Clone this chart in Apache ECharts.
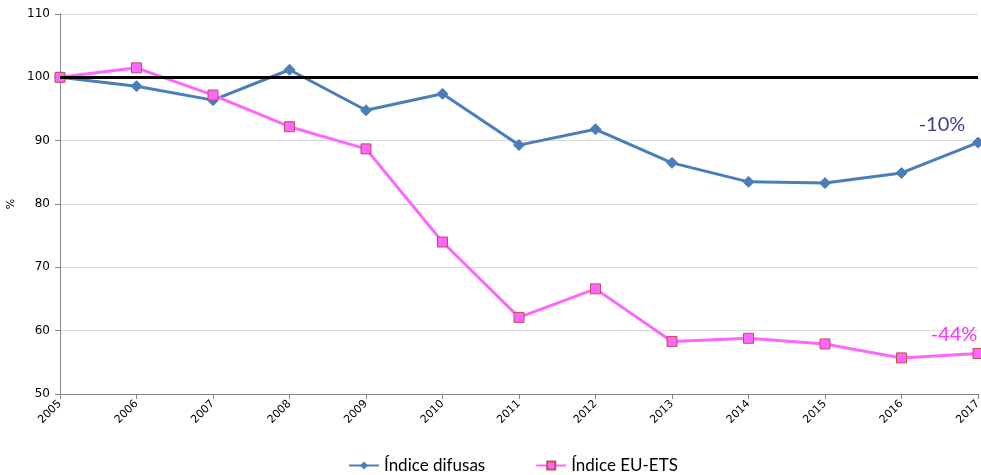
<!DOCTYPE html>
<html>
<head>
<meta charset="utf-8">
<script src="https://cdn.jsdelivr.net/npm/echarts@6/dist/echarts.min.js"></script>
<style>
  html, body { margin: 0; padding: 0; background: #fff; }
  #chart { width: 981px; height: 475px; }
</style>
</head>
<body>
<div id="chart"></div>
<script>
const years = ["2005", "2006", "2007", "2008", "2009", "2010", "2011", "2012", "2013", "2014", "2015", "2016", "2017"];
const difusas = [100, 98.6, 96.4, 101.2, 94.8, 97.4, 89.3, 91.8, 86.5, 83.5, 83.3, 84.9, 89.7];
const euEts = [100, 101.5, 97.2, 92.2, 88.7, 74.0, 62.1, 66.6, 58.3, 58.8, 57.9, 55.7, 56.4];
const endLabels = ["-10%", "-44%"];

const chart = echarts.init(document.getElementById("chart"));

function withEndLabel(values, text, color, offset) {
  return values.map((v, i) => {
    if (i !== values.length - 1) return v;
    return {
      value: v,
      label: {
        show: true,
        formatter: text,
        position: "top",
        offset: offset,
        color: color,
        fontSize: 20,
        fontFamily: "Lato",
      },
    };
  });
}

const option = {
  animation: false,
  grid: { left: 60, right: 3, top: 14, bottom: 81, outerBoundsMode: "none", containLabel: false },
  legend: {
    top: 452,
    left: 343,
    itemWidth: 30,
    itemHeight: 10,
    itemGap: 50,
    textStyle: { fontFamily: "Lato", fontSize: 17, color: "#000" },
    data: ["Índice difusas", "Índice EU-ETS"],
  },
  xAxis: {
    type: "category",
    data: years,
    boundaryGap: false,
    axisLine: { lineStyle: { color: "#868686" } },
    axisTick: { show: true, alignWithLabel: true, length: 5, lineStyle: { color: "#868686" } },
    axisLabel: { rotate: 45, color: "#000", fontSize: 11, fontFamily: "DejaVu Sans", margin: 8, interval: 0 },
  },
  yAxis: {
    type: "value",
    min: 50,
    max: 110,
    interval: 10,
    name: "%",
    nameLocation: "middle",
    nameGap: 40,
    nameTextStyle: { color: "#000", fontSize: 11, fontFamily: "DejaVu Sans" },
    axisLine: { show: true, lineStyle: { color: "#868686" } },
    axisTick: { show: true, length: 5, lineStyle: { color: "#868686" } },
    axisLabel: { color: "#000", fontSize: 12, fontFamily: "DejaVu Sans", margin: 10 },
    splitLine: { lineStyle: { color: "#d9d9d9" } },
  },
  series: [
    {
      name: "Índice difusas",
      type: "line",
      data: withEndLabel(difusas, endLabels[0], "#3c3f99", [-36, 3]),
      symbol: "diamond",
      symbolSize: 11,
      lineStyle: { color: "#4a7ebb", width: 3 },
      itemStyle: { color: "#4a7ebb", borderColor: "#4a7ebb" },
      z: 3,
      markLine: {
        silent: true,
        symbol: "none",
        label: { show: false },
        lineStyle: { color: "#000", width: 3, type: "solid" },
        data: [{ yAxis: 100 }],
      },
    },
    {
      name: "Índice EU-ETS",
      type: "line",
      data: withEndLabel(euEts, endLabels[1], "#ff33ff", [-24, 2]),
      symbol: "rect",
      symbolSize: 10,
      lineStyle: { color: "#ff66ff", width: 3 },
      itemStyle: { color: "#ff66ff", borderColor: "#c0504d", borderWidth: 1 },
      z: 4,
    },
  ],
};

chart.setOption(option);
</script>
</body>
</html>
